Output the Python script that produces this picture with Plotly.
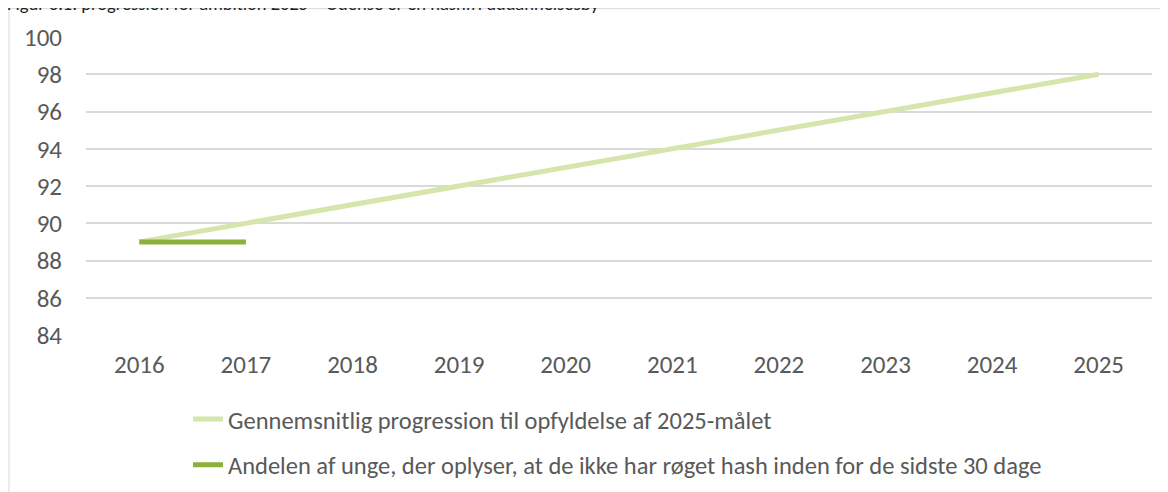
import plotly.graph_objects as go

years = [2016, 2017, 2018, 2019, 2020, 2021, 2022, 2023, 2024, 2025]
progression = [89, 90, 91, 92, 93, 94, 95, 96, 97, 98]
andel = [89, 89, None, None, None, None, None, None, None, None]
y_ticks = [84, 86, 88, 90, 92, 94, 96, 98, 100]

name_prog = "Gennemsnitlig progression til opfyldelse af 2025-målet"
name_andel = "Andelen af unge, der oplyser, at de ikke har røget hash inden for de sidste 30 dage"
title = "Figur 3.1: progression for ambition 2025 – Odense er en hashfri uddannelsesby"

FONT = "Carlito, Calibri, Lato, sans-serif"
GREY = "#595959"

W, H = 1168, 492
L, R, T, B = 78, 24, 29, 163
pw = W - L - R
ph = H - T - B

fig = go.Figure()
fig.add_trace(go.Scatter(
    x=years, y=progression, mode="lines", name=name_prog,
    line=dict(color="#d6e5ab", width=5), legendgroup="a",
))
fig.add_trace(go.Scatter(
    x=years, y=andel, mode="lines", name=name_andel,
    line=dict(color="#8db03a", width=5), legendgroup="b",
))

def px_x(p):
    return (p - L) / pw

def px_y(p):
    return (H - B - p) / ph

fig.add_shape(type="rect", xref="paper", yref="paper",
              x0=px_x(1), x1=px_x(1180), y0=px_y(0.5), y1=px_y(500),
              line=dict(color="#d9d9d9", width=1), fillcolor="rgba(0,0,0,0)", layer="below")

fig.add_annotation(text=title, xref="paper", yref="paper", x=px_x(-3), y=px_y(-5),
                   xanchor="left", yanchor="middle", showarrow=False,
                   font=dict(family=FONT, size=18.5, color="#222222"))

fig.update_layout(
    width=W, height=H,
    margin=dict(l=L, r=R, t=T, b=B),
    paper_bgcolor="white", plot_bgcolor="white",
    font=dict(family=FONT, color=GREY),
    showlegend=True,
    legend=dict(
        x=px_x(180), y=px_y(391), xanchor="left", yanchor="top",
        orientation="v", traceorder="grouped", tracegroupgap=11,
        font=dict(family=FONT, size=24.5, color=GREY),
        itemwidth=30, bgcolor="rgba(0,0,0,0)",
    ),
    xaxis=dict(
        range=[2015.5, 2025.5], tickmode="array", tickvals=years,
        ticktext=[str(y) for y in years], showgrid=False, zeroline=False,
        showline=False, ticks="", tickfont=dict(family=FONT, size=25, color=GREY),
        ticklabelstandoff=12,
    ),
    yaxis=dict(
        range=[84, 100], tickmode="array", tickvals=y_ticks,
        showgrid=True, gridcolor="#d9d9d9", gridwidth=2, zeroline=False,
        showline=False, ticks="", tickfont=dict(family=FONT, size=25, color=GREY),
        ticklabelstandoff=23,
    ),
)

fig.write_html("out.html")
